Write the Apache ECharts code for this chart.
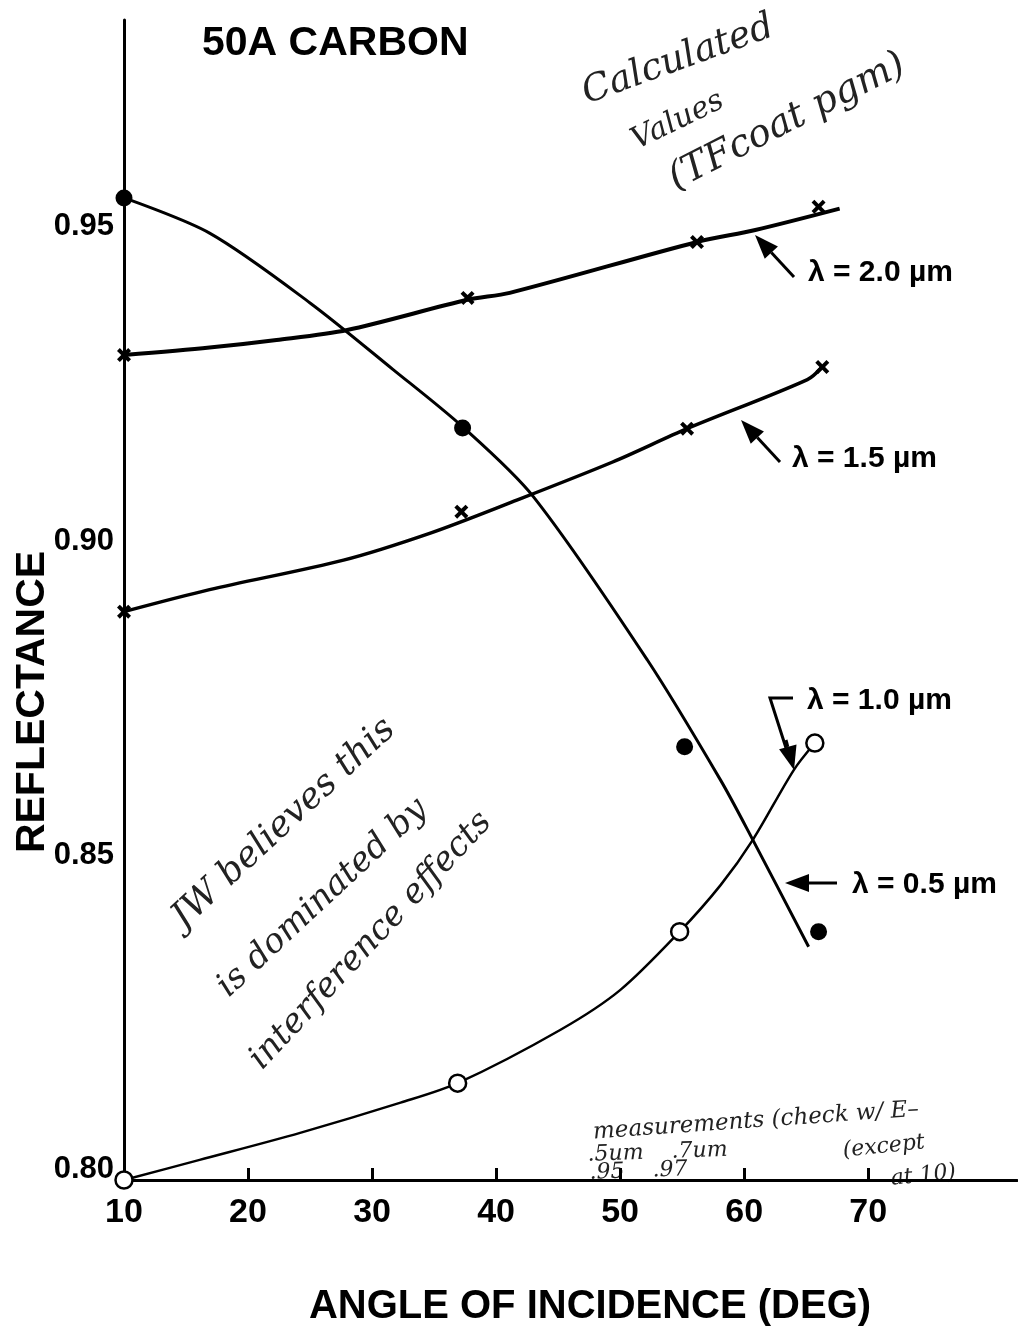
<!DOCTYPE html>
<html>
<head>
<meta charset="utf-8">
<title>50A Carbon reflectance</title>
<script src="https://cdn.jsdelivr.net/npm/echarts@6/dist/echarts.min.js"></script>
<style>
  html, body { margin: 0; padding: 0; background: #fff; }
  #chart { width: 1018px; height: 1338px; }
</style>
</head>
<body>
<div id="chart"></div>
<script>
// measured points (angle in deg, reflectance)
const angle05 = [10, 37.3, 55.2, 66.0];
const refl05 = [0.9546, 0.918, 0.8673, 0.8379];
const angle10 = [10, 36.9, 54.8, 65.7];
const refl10 = [0.7984, 0.8138, 0.8379, 0.8679];
const angle15 = [10, 37.2, 55.4, 66.3];
const refl15 = [0.8888, 0.9047, 0.9179, 0.9277];
const angle20 = [10, 37.7, 56.2, 66.0];
const refl20 = [0.9296, 0.9387, 0.9476, 0.9532];

// hand drawn fit curves
const fit05X = [10, 16.9, 25.0, 31.7, 37.3, 43.0, 52.2, 58.1, 60.7, 65.2];
const fit05Y = [0.9546, 0.949, 0.9379, 0.9273, 0.9182, 0.9071, 0.8811, 0.862, 0.8525, 0.8355];
const fit10X = [10, 16.1, 24.2, 32.3, 36.9, 45.2, 50.0, 54.8, 58.1, 60.7, 64.0, 65.7];
const fit10Y = [0.7984, 0.8016, 0.8059, 0.8107, 0.8138, 0.8223, 0.8286, 0.8379, 0.8453, 0.8525, 0.8636, 0.8679];
const fit15X = [10, 16.9, 27.7, 34.7, 41.1, 49.4, 55.4, 65.1, 66.3];
const fit15Y = [0.8888, 0.8923, 0.897, 0.9013, 0.9061, 0.9126, 0.9179, 0.9257, 0.9277];
const fit20X = [10, 16.9, 22.3, 28.0, 37.7, 41.1, 56.2, 60.9, 67.7];
const fit20Y = [0.9296, 0.9308, 0.932, 0.9336, 0.9384, 0.9395, 0.9476, 0.9495, 0.9529];

const xTicks = [10, 20, 30, 40, 50, 60, 70];
const yTicks = [0.80, 0.85, 0.90, 0.95];

const FONT = "'Liberation Sans', Arial, sans-serif";
const NARROW = "'Liberation Sans Narrow', 'Liberation Sans', Arial, sans-serif";
const HAND = "'DejaVu Serif', serif";

function pairs(xs, ys) {
  return xs.map(function (x, i) { return [x, ys[i]]; });
}

let chart = echarts.init(document.getElementById("chart"));

const crossSymbol = "path://M2,0L5,3L8,0L10,2L7,5L10,8L8,10L5,7L2,10L0,8L3,5L0,2Z";

function fitLine(xs, ys, w) {
  return {
    type: "line",
    data: pairs(xs, ys),
    smooth: 0.3,
    symbol: "none",
    silent: true,
    lineStyle: { color: "#000", width: w },
    z: 2
  };
}

function marks(xs, ys, symbol, size, style) {
  style.opacity = 1;
  return {
    type: "scatter",
    data: pairs(xs, ys),
    symbol: symbol,
    symbolSize: size,
    itemStyle: style,
    z: 5
  };
}

// arrow = line + filled head, tip/tail in pixels
function arrow(tail, tip) {
  let dx = tip[0] - tail[0], dy = tip[1] - tail[1];
  let len = Math.sqrt(dx * dx + dy * dy);
  let ux = dx / len, uy = dy / len;
  let hl = 24, hw = 9;
  let bx = tip[0] - ux * hl, by = tip[1] - uy * hl;
  return [
    {
      type: "line",
      shape: { x1: tail[0], y1: tail[1], x2: bx, y2: by },
      style: { stroke: "#000", lineWidth: 3 }
    },
    {
      type: "polygon",
      shape: {
        points: [tip, [bx - uy * hw, by + ux * hw], [bx + uy * hw, by - ux * hw]]
      },
      style: { fill: "#000" }
    }
  ];
}

function label(text, x, y) {
  return {
    type: "text",
    x: x,
    y: y,
    style: {
      text: text,
      font: "bold 30px " + FONT,
      fill: "#000",
      textAlign: "left",
      textVerticalAlign: "middle"
    }
  };
}

function hand(text, x, y, deg, size) {
  return {
    type: "text",
    x: x,
    y: y,
    rotation: deg * Math.PI / 180,
    style: {
      text: text,
      font: "italic 300 " + size + "px " + HAND,
      fill: "#222",
      textAlign: "left",
      textVerticalAlign: "bottom"
    }
  };
}

let graphics = [
  {
    type: "text",
    x: 202,
    y: 44,
    style: {
      text: "50A CARBON",
      font: "bold 41px " + FONT,
      fill: "#000",
      textAlign: "left",
      textVerticalAlign: "middle"
    }
  },
  {
    type: "text",
    x: 33,
    y: 702,
    rotation: Math.PI / 2,
    style: {
      text: "REFLECTANCE",
      font: "bold 41px " + FONT,
      fill: "#000",
      textAlign: "center",
      textVerticalAlign: "middle"
    }
  },
  {
    type: "text",
    x: 590,
    y: 1307,
    style: {
      text: "ANGLE OF INCIDENCE (DEG)",
      font: "bold 40px " + FONT,
      fill: "#000",
      textAlign: "center",
      textVerticalAlign: "middle"
    }
  },
  label("\u03bb = 2.0 \u00b5m", 808, 273),
  label("\u03bb = 1.5 \u00b5m", 792, 459),
  label("\u03bb = 1.0 \u00b5m", 807, 701),
  label("\u03bb = 0.5 \u00b5m", 852, 885),
  {
    type: "polyline",
    shape: { points: [[793, 698], [770, 698], [786, 748]] },
    style: { stroke: "#000", lineWidth: 3, fill: null }
  },
  hand("Calculated", 590, 112, 20, 37),
  hand("Values", 640, 156, 26, 30),
  hand("(TFcoat pgm)", 680, 198, 27, 38),
  hand("JW believes this", 190, 936, 43, 36),
  hand("is dominated by", 234, 1004, 43, 34),
  hand("interference effects", 268, 1076, 47, 34),
  hand("measurements (check w/ E\u2013", 594, 1144, 4, 23),
  hand(".5um    .7um", 588, 1166, 2, 22),
  hand("(except", 844, 1162, 6, 22),
  hand("at 10)", 892, 1190, 6, 22),
  hand(".95    .97", 590, 1184, 2, 22)
];
graphics = graphics
  .concat(arrow([794, 277], [755, 235]))
  .concat(arrow([780, 462], [741, 420]))
  .concat(arrow([786, 740], [794, 770]))
  .concat(arrow([837, 883], [785, 883]));

let option = {
  backgroundColor: "#fff",
  animation: false,
  grid: { left: 124, right: 1, top: 20, bottom: 158 },
  xAxis: {
    type: "value",
    min: 10,
    max: 82,
    interval: 10,
    axisLine: { onZero: false, lineStyle: { color: "#000", width: 3 } },
    axisTick: {
      show: true,
      inside: true,
      length: 12,
      customValues: xTicks,
      lineStyle: { color: "#000", width: 3 }
    },
    axisLabel: {
      customValues: xTicks,
      margin: 16,
      color: "#000",
      fontFamily: NARROW,
      fontWeight: "bold",
      fontSize: 34
    },
    splitLine: { show: false }
  },
  yAxis: {
    type: "value",
    min: 0.7984,
    max: 0.9829,
    axisLine: { show: true, onZero: false, lineStyle: { color: "#000", width: 3 } },
    axisTick: { show: false },
    axisLabel: {
      customValues: yTicks,
      margin: 10,
      color: "#000",
      fontFamily: FONT,
      fontWeight: "bold",
      fontSize: 31,
      formatter: function (v) { return v.toFixed(2); }
    },
    splitLine: { show: false }
  },
  series: [
    fitLine(fit05X, fit05Y, 3),
    fitLine(fit10X, fit10Y, 2.5),
    fitLine(fit15X, fit15Y, 3.5),
    fitLine(fit20X, fit20Y, 4),
    marks(angle05, refl05, "circle", 17, { color: "#000" }),
    marks(angle10, refl10, "circle", 17, { color: "#fff", borderColor: "#000", borderWidth: 2.5 }),
    marks(angle15, refl15, crossSymbol, 14, { color: "#000" }),
    marks(angle20, refl20, crossSymbol, 14, { color: "#000" })
  ],
  graphic: graphics
};

chart.setOption(option);
window.addEventListener("resize", () => {
  chart.resize();
});
</script>
</body>
</html>
